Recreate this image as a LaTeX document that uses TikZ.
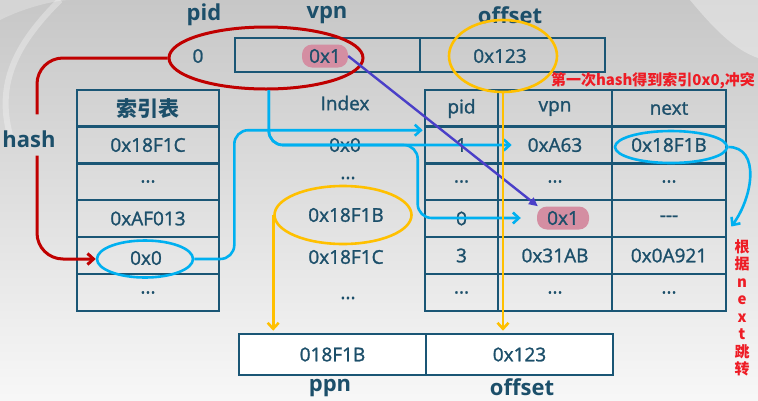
\documentclass[tikz,border=0pt]{standalone}
\usepackage{fontspec}
\setmainfont{Open Sans}
\newfontfamily\cellfont{Open Sans}[FakeBold=1.3]
\newfontfamily\cjk{Noto Sans CJK SC}
\usetikzlibrary{arrows.meta,calc,positioning,shapes.geometric}
\definecolor{ink}{HTML}{1C4F6A}
\definecolor{rim}{HTML}{1A5675}
\definecolor{skyb}{HTML}{00B0F0}
\definecolor{gold}{HTML}{FFC000}
\definecolor{wine}{HTML}{C00000}
\definecolor{alert}{HTML}{EE1C25}
\definecolor{rose}{HTML}{D48EA2}
\definecolor{violet}{HTML}{4A3FC8}

\begin{document}
\begin{tikzpicture}[x=1pt,y=-1pt,
    cell/.style={draw=rim,line width=2.6pt,minimum height=37pt,inner sep=0pt,font=\cellfont\fontsize{19}{21}\selectfont,text=ink},
    txt/.style={font=\cellfont\fontsize{19}{21}\selectfont,text=ink,inner sep=1pt},
    hd/.style={font=\bfseries\fontsize{22}{24}\selectfont,text=ink,inner sep=2pt},
    hl/.style={fill=rose,rounded corners=10pt,minimum width=46pt,minimum height=23pt,inner sep=0pt,font=\cellfont\fontsize{19}{21}\selectfont,text=ink},
    ov/.style={ellipse,draw,line width=2.6pt,inner sep=0pt},
    bl/.style={skyb,line width=2.6pt,rounded corners=14pt},
    rl/.style={wine,line width=3pt,rounded corners=26pt},
    yl/.style={gold,line width=2.6pt},
    ar/.style={-{Straight Barb[length=6pt,width=11pt]}},
    note/.style={font=\cjk\bfseries\fontsize{15}{17.5}\selectfont,text=alert,inner sep=0pt}
  ]
    \useasboundingbox (0,0) rectangle (758,400);
    \shade[top color=black!22,bottom color=black!3] (0,0) rectangle (758,400);
    \fill[white,opacity=.35] (690,0) .. controls (715,30) and (735,50) .. (758,58) -- (758,0) -- cycle;
    \fill[white,opacity=.25] (0,20) .. controls (30,5) and (60,0) .. (70,0) -- (0,0) -- cycle;
    \draw[white,opacity=.3,line width=6pt] (10,135) .. controls (-5,80) and (20,40) .. (60,0);

    % virtual address
    \node[hd] (lpid) at (204,15) {pid}; \node[hd] (lvpn) at (327,15) {vpn}; \node[hd] (loff) at (510,15) {offset};
    \node[txt] (pid) at (198,56) {0};
    \node[cell,minimum width=185pt,minimum height=34pt] (va) at (327.5,55) {};
    \node[cell,minimum width=185pt,minimum height=34pt] (vo) at (512.5,55) {};
    \node[hl] (vt) at (325,56) {0x1}; \node[txt] (ot) at (500,56) {0x123};

    % index table
    \node[cell,minimum width=142pt,font=\cjk\bfseries\fontsize{21}{24}\selectfont] (ih) at (148,108.5) {索引表};
    \node[cell,minimum width=142pt] (i1) at (148,145) {0x18F1C};
    \node[cell,minimum width=142pt] (i2) at (148,181.5) {...};
    \node[cell,minimum width=142pt] (i3) at (148,218.5) {0xAF013};
    \node[cell,minimum width=142pt] (i4) at (148,255.5) {};
    \node[cell,minimum width=142pt] (i5) at (148,292.5) {...};
    \node[txt] (h0) at (146,258) {0x0};
    \node[hd] (hash) at (29,139) {hash};

    % Index column
    \node[txt] (x0) at (345,103) {Index}; \node[txt] (x1) at (345,145) {0x0};
    \node[txt] (x2) at (348,178) {...}; \node[txt] (x3) at (346,215) {0x18F1B};
    \node[txt] (x4) at (346,257) {0x18F1C}; \node[txt] (x5) at (348,298) {...};

    % page table
    \node[cell,minimum width=73pt] (p0) at (461.5,108.5) {pid};
    \node[cell,minimum width=114pt] (v0) at (555,108.5) {vpn};
    \node[cell,minimum width=114pt] (n0) at (669,108.5) {next};
    \node[cell,minimum width=73pt] (p1) at (461.5,145) {1};
    \node[cell,minimum width=114pt] (v1) at (555,145) {0xA63};
    \node[cell,minimum width=114pt] (n1) at (669,145) {0x18F1B};
    \node[cell,minimum width=73pt] (p2) at (461.5,181.5) {...};
    \node[cell,minimum width=114pt] (v2) at (555,181.5) {...};
    \node[cell,minimum width=114pt] (n2) at (669,181.5) {...};
    \node[cell,minimum width=73pt] (p3) at (461.5,218.5) {0};
    \node[cell,minimum width=114pt] (v3) at (555,218.5) {};
    \node[cell,minimum width=114pt] (n3) at (669,218.5) {-{}-{}-};
    \node[cell,minimum width=73pt] (p4) at (461.5,255.5) {3};
    \node[cell,minimum width=114pt] (v4) at (555,255.5) {0x31AB};
    \node[cell,minimum width=114pt] (n4) at (669,255.5) {0x0A921};
    \node[cell,minimum width=73pt] (p5) at (461.5,292.5) {...};
    \node[cell,minimum width=114pt] (v5) at (555,292.5) {...};
    \node[cell,minimum width=114pt] (n5) at (669,292.5) {...};
    \node[hl,minimum width=52pt] (vx) at (563,218) {0x1};

    % physical address
    \node[cell,fill=white,minimum width=187pt,minimum height=41pt] (pp) at (332.5,354.5) {018F1B};
    \node[cell,fill=white,minimum width=187pt,minimum height=41pt] (po) at (519.5,354.5) {0x123};
    \node[hd,inner sep=0pt] (lppn) at (330,388) {ppn}; \node[hd,inner sep=0pt] (loff2) at (522,387) {offset};

    % marks
    \node[ov,draw=wine,line width=3pt,minimum width=194pt,minimum height=62pt] (eRed) at (266,58) {};
    \node[ov,draw=gold,minimum width=108pt,minimum height=72pt] (eOff) at (503,56) {};
    \node[ov,draw=skyb,minimum width=96pt,minimum height=37pt] (eH0) at (145,259) {};
    \node[ov,draw=skyb,minimum width=112pt,minimum height=32pt] (eNx) at (671,147) {};
    \node[ov,draw=gold,minimum width=137pt,minimum height=58pt] (eIx) at (343,215) {};

    \node[note] (clash) at (653,81) {第一次hash得到索引0x0,冲突};
    \node[note,align=center] (jump) at (742,308) {根\\据\\n\\e\\x\\t\\跳\\转};

    % links
    \draw[rl] (eRed.west) -| ([xshift=8pt,yshift=14pt]hash.north);
    \draw[rl,ar] ([xshift=8pt,yshift=-6pt]hash.south) |- (eH0.west);
    \draw[bl,ar] (eH0.east) -- ++(40,0) |- ([xshift=-1pt,yshift=-5pt]p1.north west);
    \draw[bl,ar] (eRed.275) |- ([xshift=15pt]v1.west);
    \draw[bl,ar] (eRed.275) |- ([xshift=-6pt]p1.west) |- ([xshift=-16pt]vx.west);
    \draw[skyb,line width=2.6pt,ar] (eNx.east) .. controls +(32,0) and +(22,-30) .. ($(n3.east)+(4,8)$);
    \draw[violet,line width=2.4pt,-{Triangle[length=9pt,width=8pt]}] (vt.east) -- (vx.155);
    \draw[yl,ar,shorten >=2pt] (eIx.west) -- (eIx.west |- pp.north);
    \draw[yl,ar,shorten >=2pt] (eOff.south) -- (eOff.south |- po.north);
\end{tikzpicture}
\end{document}
